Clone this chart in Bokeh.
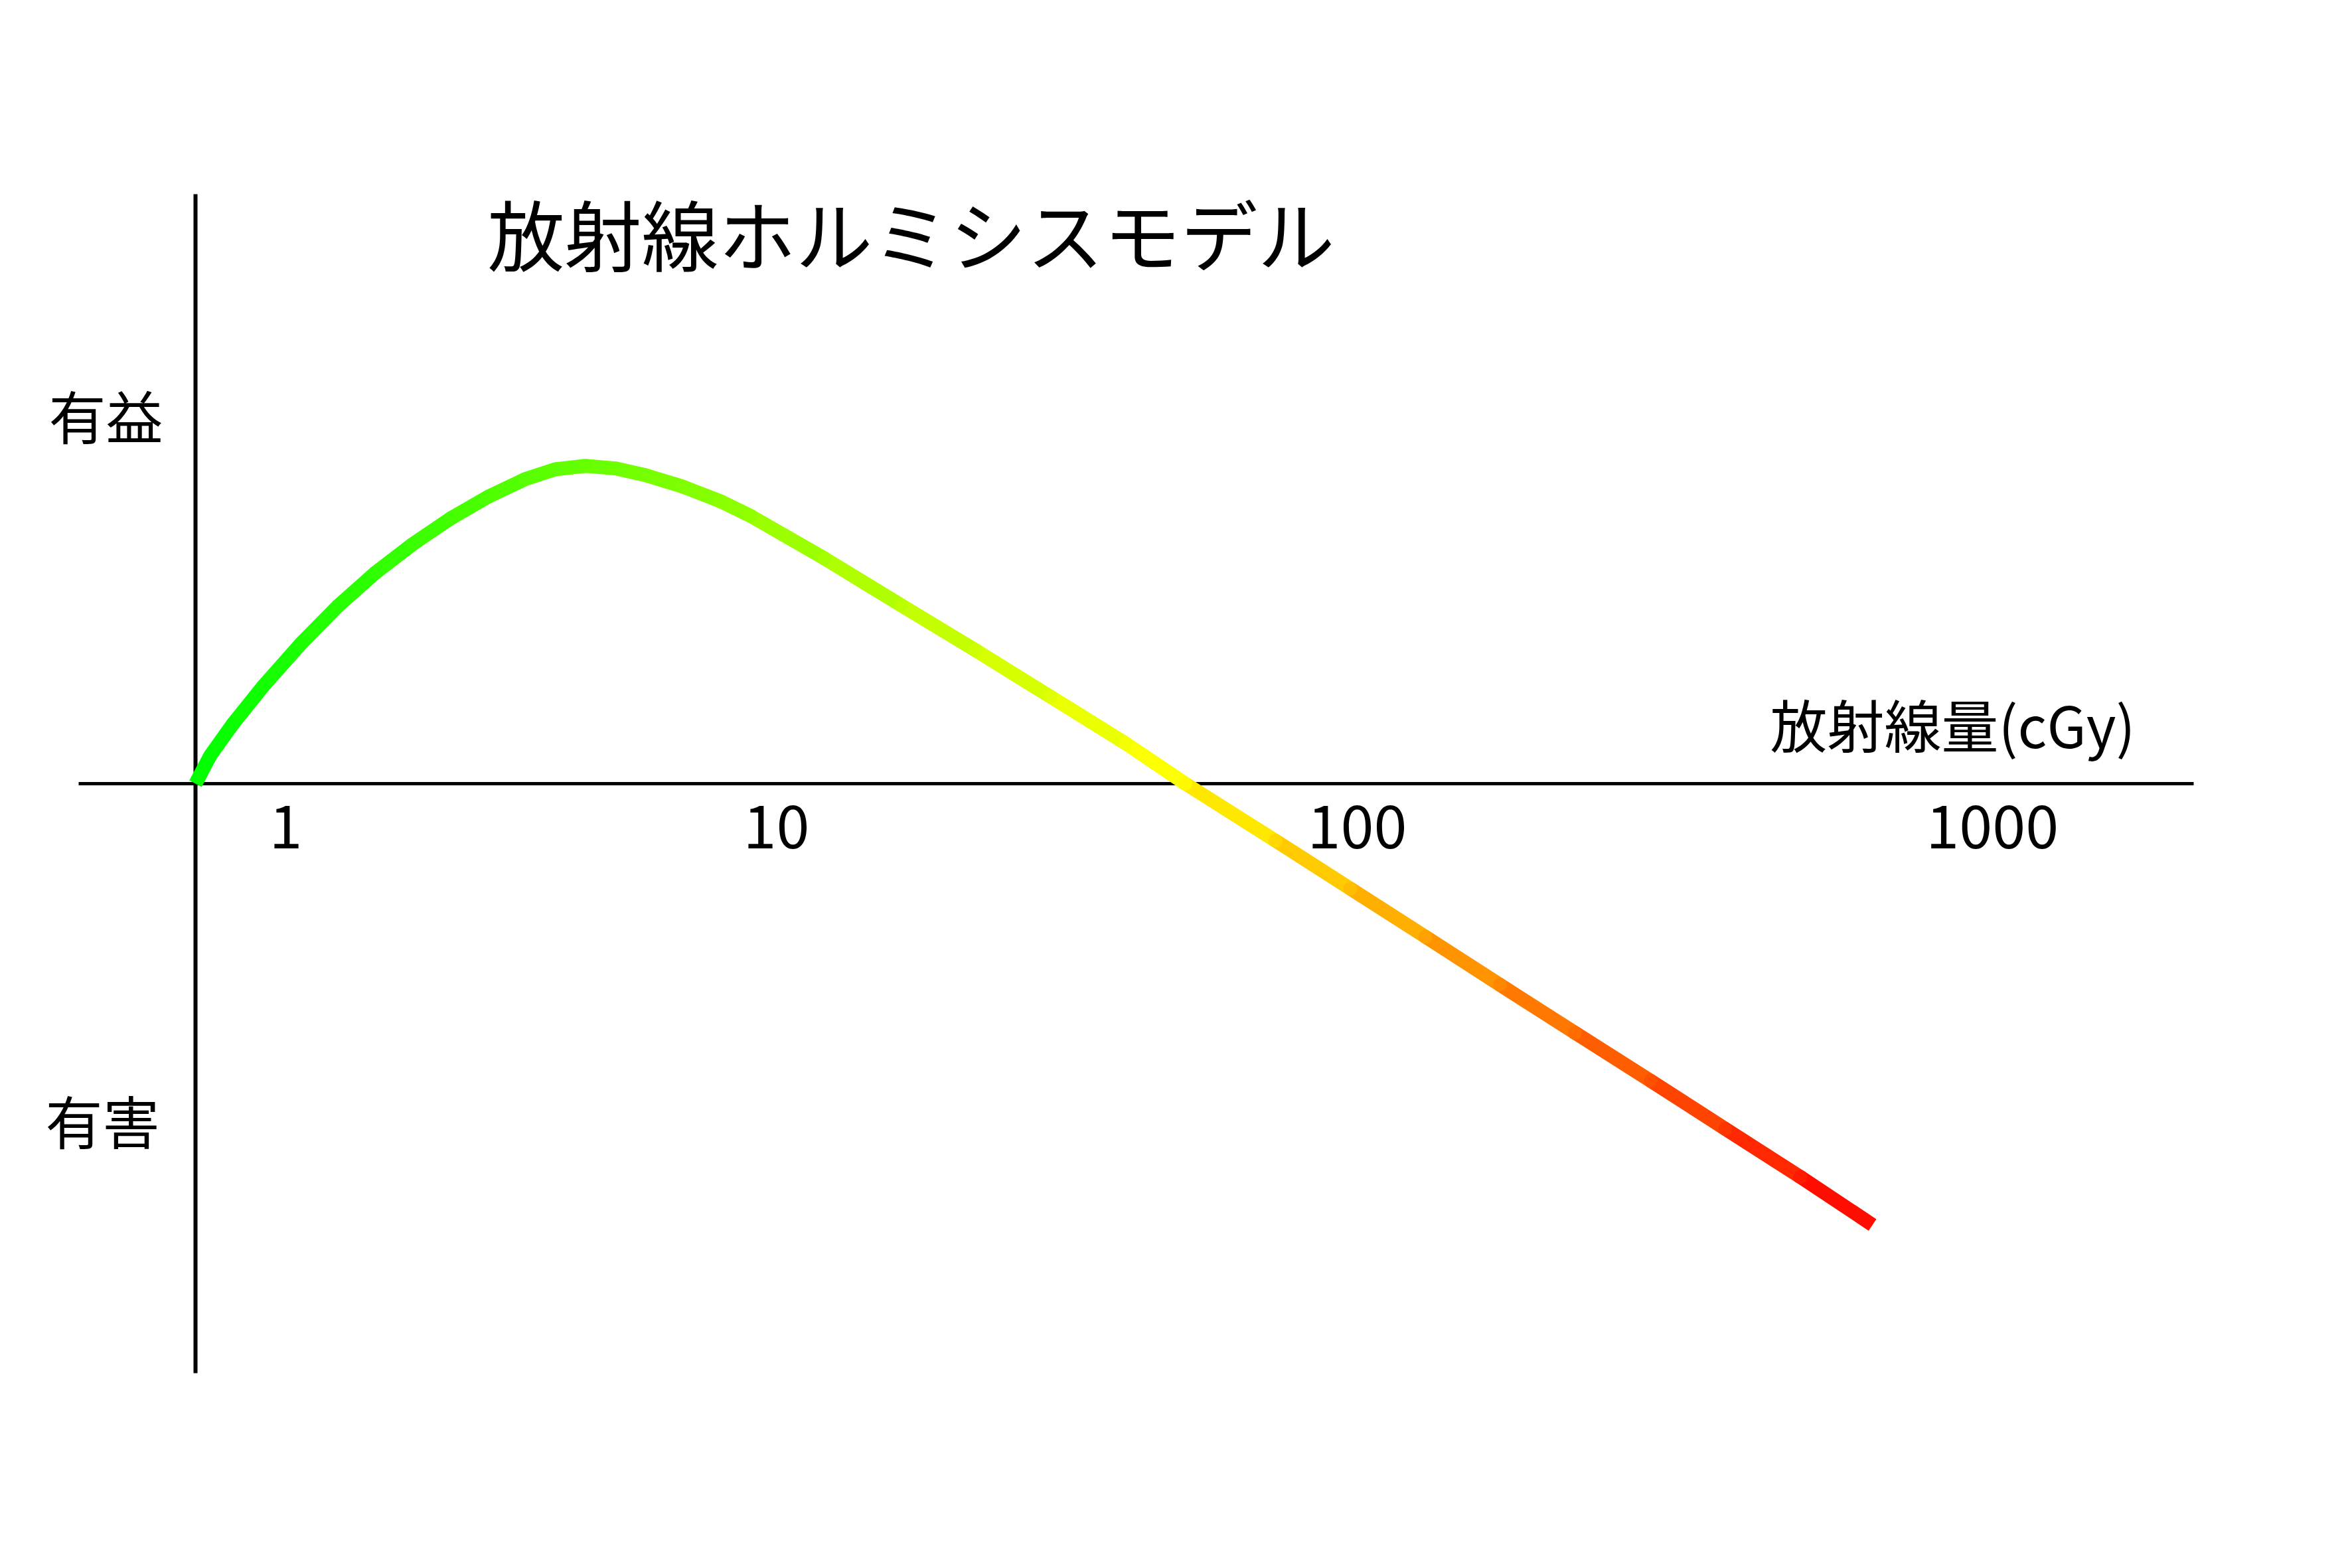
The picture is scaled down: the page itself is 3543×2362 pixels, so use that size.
from bokeh.plotting import figure
from bokeh.models import ColumnDataSource
from bokeh.core.properties import value
from bokeh.embed import file_html
from bokeh.resources import INLINE
import math

# ---------------- data (schematic) ----------------
title_text = "放射線ホルミシスモデル"
x_label = "放射線量(cGy)"
y_labels = ["有益", "有害"]
tick_labels = ["1", "10", "100", "1000"]
tick_label_dose = [1.43, 10.0, 100.0, 1240.0]     # where each label sits (cGy)

dose = [1.0, 1.06, 1.16, 1.31, 1.52, 1.76, 2.04, 2.37, 2.75, 3.19, 3.70, 4.16,
        4.69, 5.28, 5.95, 6.90, 8.01, 9.02, 12.1, 16.4, 22.0, 29.6, 39.9, 50.6,
        72.3, 97.3, 131.0, 176.0, 237.0, 320.0, 430.0, 579.0, 771.0]
effect = [0.0, 0.088, 0.188, 0.308, 0.441, 0.559, 0.663, 0.754, 0.834, 0.902,
          0.958, 0.988, 0.999, 0.991, 0.970, 0.934, 0.888, 0.842, 0.708, 0.561,
          0.420, 0.274, 0.127, 0.0, -0.179, -0.330, -0.481, -0.632, -0.783,
          -0.934, -1.085, -1.236, -1.387]

# ---------------- layout ----------------
W, H = 3527, 2346
OX, OY = 294, 1180          # page position of origin (dose 1, effect 0)
PX_DEC = 875.0              # px per decade
PX_UNIT = 479.2             # px per effect unit

x0_log = (0 - OX) / PX_DEC
x1_log = (W - OX) / PX_DEC
y_top = OY / PX_UNIT
y_bot = (OY - H) / PX_UNIT


def px_x(X):
    return 10 ** ((X - OX) / PX_DEC)


def px_y(Y):
    return (OY - Y) / PX_UNIT


p = figure(width=W, height=H, output_backend="svg", toolbar_location=None,
           x_axis_type="log", x_axis_location=None, y_axis_location=None,
           x_range=(10 ** x0_log, 10 ** x1_log), y_range=(y_bot, y_top),
           min_border=0, outline_line_color=None)
p.xgrid.visible = False
p.ygrid.visible = False
p.background_fill_color = "white"
p.border_fill_color = "white"

# axes (cross at the origin)
p.segment(x0=[px_x(118)], y0=[0], x1=[px_x(3304)], y1=[0],
          line_color="black", line_width=5)
p.segment(x0=[1.0], y0=[px_y(292)], x1=[1.0], y1=[px_y(2068)],
          line_color="black", line_width=6)

# gradient colours green -> yellow -> red along the curve
lmax = math.log10(dose[-1])


def grad(f):
    if f < 0.58:
        r, g = int(round(255 * f / 0.58)), 255
    else:
        r, g = 255, int(round(255 * (1 - (f - 0.58) / 0.42)))
    r = max(0, min(255, r)); g = max(0, min(255, g))
    return "#%02x%02x00" % (r, g)


LW = 21
seg_cols = []
for i in range(len(dose) - 1):
    lm = (math.log10(dose[i]) + math.log10(dose[i + 1])) / 2
    seg_cols.append(grad(lm / lmax))

src = ColumnDataSource(dict(x0=dose[:-1], y0=effect[:-1], x1=dose[1:], y1=effect[1:], c=seg_cols))
p.segment(x0="x0", y0="y0", x1="x1", y1="y1", line_color="c", line_width=LW,
          line_cap="butt", source=src)
jc = [grad(math.log10(d) / lmax) for d in dose[1:-1]]
p.scatter(x=dose[1:-1], y=effect[1:-1], size=LW, marker="circle",
          fill_color=jc, line_color=None)

FONT = value("Noto Sans CJK JP")

# title
p.text(x=[px_x(1372)], y=[px_y(348)], text=[title_text], text_font=FONT,
       text_font_size=value("116px"), text_align="center", text_baseline="middle",
       text_color="black")
# y labels
p.text(x=[px_x(159), px_x(154)], y=[px_y(624), px_y(1686)], text=y_labels,
       text_font=FONT, text_font_size=value("86px"), text_align="center",
       text_baseline="middle", text_color="black")
# x label
p.text(x=[px_x(2941)], y=[px_y(1089)], text=[x_label], text_font=FONT,
       text_font_size=value("86px"), text_align="center", text_baseline="middle",
       text_color="black")
# tick labels
p.text(x=tick_label_dose, y=[px_y(1244)] * 4, text=tick_labels,
       text_font=FONT, text_font_size=value("90px"),
       text_align="center", text_baseline="middle", text_color="black")

open("out.html", "w").write(file_html(p, INLINE))
